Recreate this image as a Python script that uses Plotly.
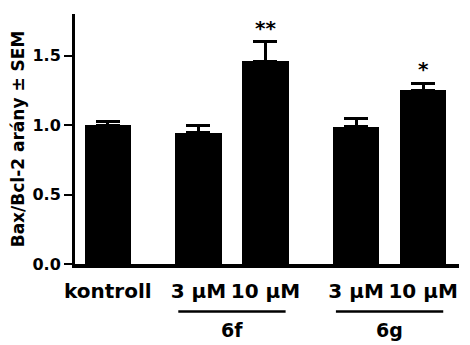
import plotly.graph_objects as go

# ---- data ----
categories = ["kontroll", "3 µM", "10 µM", "3 µM", "10 µM"]
groups = ["", "6f", "6f", "6g", "6g"]
values = [1.00, 0.945, 1.46, 0.99, 1.25]
sem = [0.025, 0.055, 0.14, 0.06, 0.05]
signif = ["", "", "**", "", "*"]
y_ticks = [0.0, 0.5, 1.0, 1.5]
y_tick_labels = ["0.0", "0.5", "1.0", "1.5"]
y_title = "Bax/Bcl-2 arány ± SEM"

# ---- layout of positions (computed from group structure) ----
GROUP_GAP = 0.35
xpos = []
cur = 0.0
prev = None
for i, g in enumerate(groups):
    if i > 0:
        cur += 1.0 + (GROUP_GAP if g != prev else 0.0)
    xpos.append(cur)
    prev = g

FONT = "DejaVu Sans"
BAR_W = 0.69

fig = go.Figure()
fig.add_trace(go.Bar(
    x=xpos, y=values, width=BAR_W,
    marker=dict(color="black", line=dict(width=0)),
    error_y=dict(type="data", array=sem, arrayminus=[0] * len(sem),
                 symmetric=False, color="black", thickness=3, width=12),
    showlegend=False,
))

# significance stars
for x, v, s, star in zip(xpos, values, sem, signif):
    if star:
        fig.add_annotation(x=x, y=v + s, xref="x", yref="y", text=star,
                           showarrow=False, yanchor="bottom", yshift=0,
                           font=dict(family=FONT, size=20, color="black", weight="bold"))

# group underlines and labels
for gname in sorted(set(g for g in groups if g)):
    xs = [x for x, g in zip(xpos, groups) if g == gname]
    c = sum(xs) / len(xs)
    fig.add_shape(type="line", xref="x", yref="paper",
                  x0=c - 0.8, x1=c + 0.8, y0=-0.19, y1=-0.19,
                  line=dict(color="black", width=2.5))
    fig.add_annotation(x=c, y=-0.265, xref="x", yref="paper", text=gname,
                       showarrow=False, yanchor="middle",
                       font=dict(family=FONT, size=19, color="black", weight="bold"))

# page body adds an 8px offset; size the figure so it fills the window
fig.update_layout(
    width=462, height=337,
    margin=dict(l=67, r=11, t=6, b=81),
    paper_bgcolor="white", plot_bgcolor="white",
    bargap=0,
)
fig.update_xaxes(
    range=[-0.49, xpos[-1] + 0.535],
    tickvals=xpos, ticktext=categories,
    showgrid=False, zeroline=False, automargin=False,
    showline=True, linecolor="black", linewidth=4,
    ticks="outside", ticklen=6, tickcolor="rgba(0,0,0,0)",
    tickfont=dict(family=FONT, size=20, color="black", weight="bold"),
)
fig.update_yaxes(
    range=[0, 1.8],
    tickvals=y_ticks, ticktext=y_tick_labels,
    showgrid=False, zeroline=False, automargin=False,
    showline=True, linecolor="black", linewidth=3,
    ticks="outside", ticklen=8, tickwidth=2, tickcolor="black",
    tickfont=dict(family=FONT, size=16, color="black", weight="bold"),
    title=dict(text=y_title, standoff=9,
               font=dict(family=FONT, size=17, color="black", weight="bold")),
)

fig.write_html("out.html")
